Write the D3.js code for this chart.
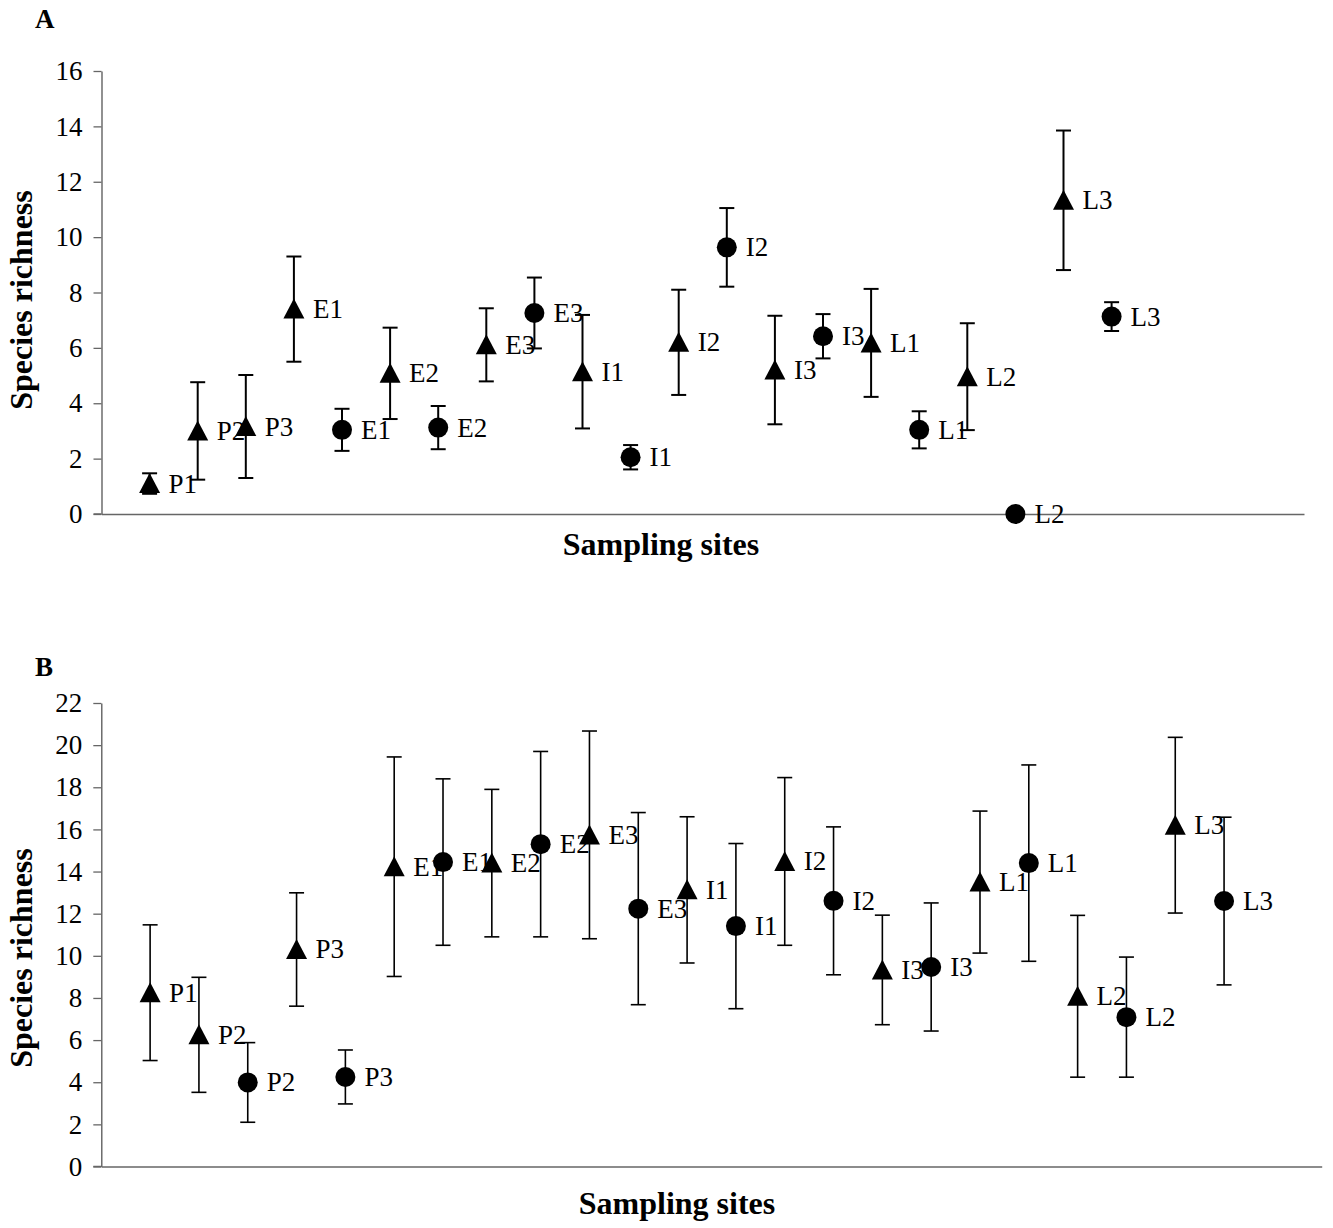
<!DOCTYPE html>
<html>
<head>
<meta charset="utf-8">
<script src="https://cdn.jsdelivr.net/npm/d3@7"></script>
<style>
  body { margin: 0; background: #fff; }
  svg { display: block; }
  text { font-family: "Liberation Serif", "Times New Roman", serif; fill: #000; }
</style>
</head>
<body>
<svg id="chart" width="1333" height="1228"></svg>
<script>
// ---------- Panel A: species richness per sampling site ----------
// triangles
const aTriSites = ["P1", "P2", "P3", "E1", "E2", "E3", "I1", "I2", "I3", "L1", "L2", "L3"];
const aTriX     = [1, 2, 3, 4, 6, 8, 10, 12, 14, 16, 18, 20];
const aTriMean  = [1.1, 3.0, 3.16, 7.4, 5.08, 6.11, 5.14, 6.2, 5.2, 6.18, 4.96, 11.33];
const aTriErr   = [0.37, 1.76, 1.86, 1.9, 1.65, 1.32, 2.05, 1.9, 1.96, 1.95, 1.93, 2.52];
// circles
const aCirSites = ["E1", "E2", "E3", "I1", "I2", "I3", "L1", "L2", "L3"];
const aCirX     = [5, 7, 9, 11, 13, 15, 17, 19, 21];
const aCirMean  = [3.04, 3.12, 7.26, 2.05, 9.63, 6.42, 3.04, 0, 7.13];
const aCirErr   = [0.76, 0.78, 1.28, 0.44, 1.42, 0.8, 0.67, 0, 0.52];
const aYTicks   = [0, 2, 4, 6, 8, 10, 12, 14, 16];

// ---------- Panel B ----------
const bTriSites = ["P1", "P2", "P3", "E1", "E2", "E3", "I1", "I2", "I3", "L1", "L2", "L3"];
const bTriX     = [1, 2, 4, 6, 8, 10, 12, 14, 16, 18, 20, 22];
const bTriMean  = [8.25, 6.25, 10.3, 14.23, 14.4, 15.74, 13.13, 14.48, 9.33, 13.5, 8.08, 16.2];
const bTriErr   = [3.22, 2.73, 2.69, 5.21, 3.5, 4.93, 3.47, 3.98, 2.6, 3.37, 3.84, 4.17];
const bCirSites = ["P2", "P3", "E1", "E2", "E3", "I1", "I2", "I3", "L1", "L2", "L3"];
const bCirX     = [3, 5, 7, 9, 11, 13, 15, 17, 19, 21, 23];
const bCirMean  = [3.99, 4.25, 14.45, 15.3, 12.24, 11.41, 12.61, 9.47, 14.4, 7.09, 12.6];
const bCirErr   = [1.89, 1.28, 3.95, 4.4, 4.56, 3.92, 3.51, 3.04, 4.66, 2.85, 3.98];
const bYTicks   = [0, 2, 4, 6, 8, 10, 12, 14, 16, 18, 20, 22];

const xAxisTitle = "Sampling sites";
const yAxisTitle = "Species richness";

const svg = d3.select("#chart");

function toRows(sites, xs, means, errs, shape) {
  return sites.map((s, i) => ({ site: s, x: xs[i], mean: means[i], err: errs[i], shape }));
}

function drawPanel(p) {
  const x = d3.scaleLinear().domain([0, 25]).range([p.left, p.right]);
  const y = d3.scaleLinear().domain([0, d3.max(p.yTicks)]).range([p.bottom, p.top]);
  const g = svg.append("g");

  // panel letter
  g.append("text").attr("x", 35).attr("y", p.letterY)
    .attr("font-size", 27).attr("font-weight", "bold").text(p.letter);

  // y axis
  const yAxis = d3.axisLeft(y).tickValues(p.yTicks).tickSize(8).tickSizeOuter(0).tickPadding(11);
  const ya = g.append("g").attr("transform", `translate(${p.left},0)`).call(yAxis);
  ya.select(".domain").attr("stroke", "#555").attr("stroke-width", 1.3);
  ya.selectAll(".tick line").attr("stroke", "#666").attr("stroke-width", 1.3);
  ya.selectAll(".tick text").attr("font-size", 27).attr("fill", "#000");

  // x axis (line only)
  const xAxis = d3.axisBottom(x).tickValues([]).tickSizeOuter(0);
  const xa = g.append("g").attr("transform", `translate(0,${p.bottom})`).call(xAxis);
  xa.select(".domain").attr("stroke", "#666").attr("stroke-width", 1.5);
  // baseline continues left through the 0 tick
  g.append("line").attr("x1", p.left - 8).attr("x2", p.left)
    .attr("y1", p.bottom).attr("y2", p.bottom).attr("stroke", "#666").attr("stroke-width", 1.5);

  // axis titles
  g.append("text").attr("x", p.xTitleX).attr("y", p.xTitleY)
    .attr("text-anchor", "middle").attr("font-size", 32).attr("font-weight", "bold").text(xAxisTitle);
  g.append("text")
    .attr("transform", `translate(32,${p.yTitleY}) rotate(-90)`)
    .attr("text-anchor", "middle").attr("font-size", 32).attr("font-weight", "bold").text(yAxisTitle);

  const rows = p.rows;

  // error bars
  const eb = g.append("g").attr("stroke", "#000").attr("stroke-width", p.errWidth);
  rows.filter(d => d.err > 0).forEach(d => {
    const cx = x(d.x);
    eb.append("line").attr("x1", cx).attr("x2", cx).attr("y1", y(d.mean - d.err)).attr("y2", y(d.mean + d.err));
    [d.mean - d.err, d.mean + d.err].forEach(v => {
      eb.append("line").attr("x1", cx - 7.5).attr("x2", cx + 7.5).attr("y1", y(v)).attr("y2", y(v));
    });
  });

  // markers
  const mk = g.append("g").attr("fill", "#000");
  rows.forEach(d => {
    const cx = x(d.x), cy = y(d.mean);
    if (d.shape === "tri") {
      mk.append("path").attr("d", `M${cx},${cy - 10.5}L${cx + 10.5},${cy + 9.5}L${cx - 10.5},${cy + 9.5}Z`);
    } else {
      mk.append("circle").attr("cx", cx).attr("cy", cy).attr("r", 10);
    }
  });

  // site labels to the right of each marker
  const lb = g.append("g");
  rows.forEach(d => {
    lb.append("text").attr("x", x(d.x) + 19).attr("y", y(d.mean) + 9)
      .attr("font-size", 27).text(d.site);
  });
}

drawPanel({
  letter: "A", letterY: 28,
  left: 101.5, right: 1304, top: 71, bottom: 514,
  yTicks: aYTicks,
  xTitleX: 661, xTitleY: 555, yTitleY: 300,
  errWidth: 2,
  rows: toRows(aTriSites, aTriX, aTriMean, aTriErr, "tri")
    .concat(toRows(aCirSites, aCirX, aCirMean, aCirErr, "cir"))
});

drawPanel({
  letter: "B", letterY: 676,
  left: 101.3, right: 1321.7, top: 703, bottom: 1166.5,
  yTicks: bYTicks,
  xTitleX: 677, xTitleY: 1214, yTitleY: 958,
  errWidth: 1.6,
  rows: toRows(bTriSites, bTriX, bTriMean, bTriErr, "tri")
    .concat(toRows(bCirSites, bCirX, bCirMean, bCirErr, "cir"))
});
</script>
</body>
</html>
